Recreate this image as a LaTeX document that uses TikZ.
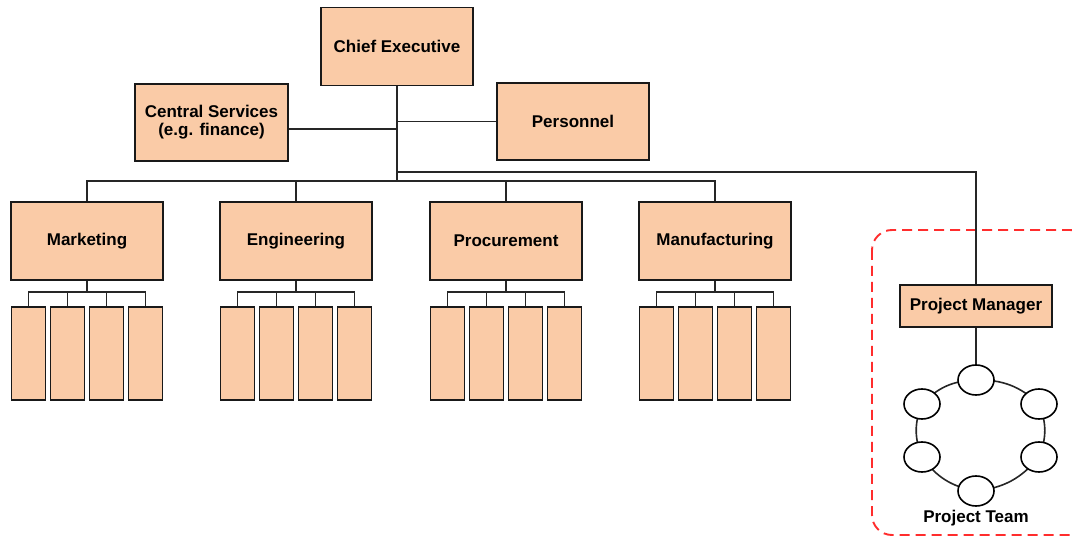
\documentclass[tikz,border=0pt]{standalone}
\usepackage{fontspec}
\setmainfont{Liberation Sans}
\usetikzlibrary{shapes.geometric,calc}
\definecolor{peach}{RGB}{250,203,167}
\definecolor{dashred}{RGB}{255,45,45}
\tikzset{
  orgbox/.style={draw=black!90, line width=1.7pt, fill=peach, rectangle, inner sep=0pt,
     minimum width=152pt, minimum height=78pt, align=center,
     font=\fontsize{17}{18}\selectfont\bfseries},
  subbox/.style={draw=black!90, line width=1.7pt, fill=peach, rectangle, inner sep=0pt,
     minimum width=34pt, minimum height=93pt},
  member/.style={draw=black, line width=1.6pt, fill=white, ellipse, inner sep=0pt,
     minimum width=36pt, minimum height=30pt},
  conn/.style={draw=black!85, line width=1.6pt},
  lbl/.style={font=\fontsize{17}{18}\selectfont\bfseries, inner sep=0pt}
}
\begin{document}
\begin{tikzpicture}[x=1pt,y=-1pt]
\useasboundingbox (0,0) rectangle (1072,537);
\begin{scope}
\clip (0,0) rectangle (1072,537);
\draw[dashred, line width=1.9pt, dash pattern=on 10pt off 6pt, rounded corners=20pt] (872,230) rectangle (1090,535);
\end{scope}
% top level
\node[orgbox] (ce) at (397,46.5) {Chief Executive};
\node[orgbox, minimum width=153pt, minimum height=77pt] (cs) at (211.5,122.5) {Central Services\\(e.g. finance)};
\node[orgbox, minimum height=77pt] (pe) at (573,121.5) {Personnel};
% departments
\node[orgbox] (d1) at (87,241) {Marketing};
\node[orgbox] (d2) at (296,241) {Engineering};
\node[orgbox] (d3) at (506,241) {Procurement};
\node[orgbox] (d4) at (715,241) {Manufacturing};
% junctions
\coordinate (jcs) at (397,129);
\coordinate (jpe) at (397,121.5);
\coordinate (jpm) at (397,172);
\coordinate (bus) at (397,181);
\draw[conn] (ce.south) -- (bus);
\draw[conn] (cs.east |- jcs) -- (jcs);
\draw[conn] (jpe) -- (pe.west |- jpe);
\draw[conn] (d1.north) |- (bus) -| (d4.north);
\draw[conn] (d2.north) -- (d2.north |- bus);
\draw[conn] (d3.north) -- (d3.north |- bus);
% sub boxes
\foreach \d in {d1,d2,d3,d4}{
  \node[subbox] (\d s1) at ($(\d.south)+(-58.5,72.5)$) {};
  \node[subbox] (\d s2) at ($(\d.south)+(-19.5,72.5)$) {};
  \node[subbox] (\d s3) at ($(\d.south)+(19.5,72.5)$) {};
  \node[subbox] (\d s4) at ($(\d.south)+(58.5,72.5)$) {};
  \coordinate (\d j) at ($(\d.south)+(0,11)$);
  \draw[conn] (\d.south) -- (\d j);
  \draw[conn] (\d s1.north) |- (\d j) -| (\d s4.north);
  \draw[conn] (\d s2.north) -- (\d s2.north |- \d j);
  \draw[conn] (\d s3.north) -- (\d s3.north |- \d j);
}
% project
\node[orgbox, minimum height=42pt] (pm) at (976,306) {Project Manager};
\draw[conn] (jpm) -| (pm.north);
\coordinate (t1) at (976,380);
\coordinate (t2) at (1039,404);
\coordinate (t3) at (1039,457);
\coordinate (t4) at (976,491);
\coordinate (t5) at (922,457);
\coordinate (t6) at (922,404);
\draw[conn] (pm.south) -- (t1);
\draw[conn] (t1) to[bend left=22] (t2) to[bend left=22] (t3) to[bend left=22] (t4)
   to[bend left=22] (t5) to[bend left=22] (t6) to[bend left=22] (t1);
\foreach \t in {1,...,6}{\node[member] (m\t) at (t\t) {};}
\node[lbl] (pt) at (976,518) {Project Team};
\end{tikzpicture}
\end{document}
